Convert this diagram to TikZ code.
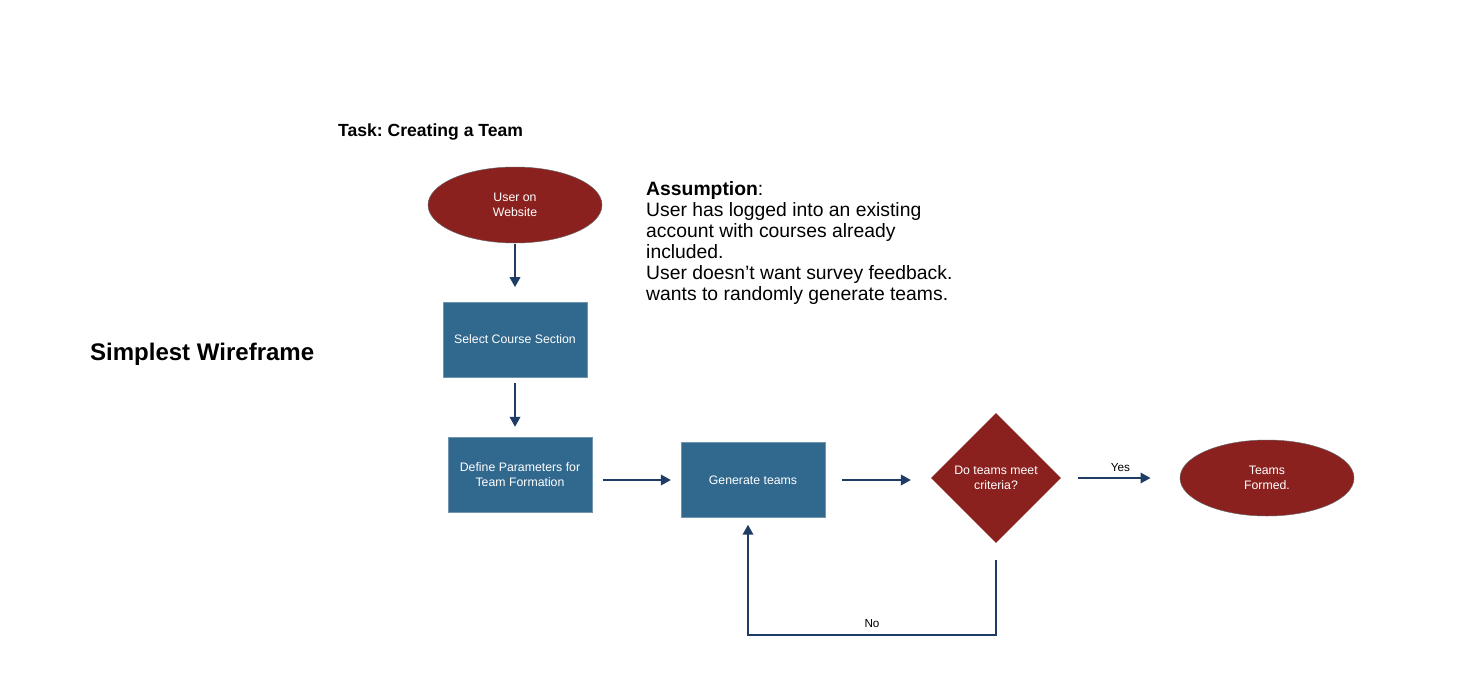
\documentclass[tikz,border=0pt]{standalone}
\usepackage{fontspec}
\setmainfont{Liberation Sans}
\usetikzlibrary{shapes.geometric, arrows.meta}
\definecolor{boxblue}{RGB}{49,104,142}
\definecolor{darkred}{RGB}{139,33,30}
\definecolor{arrowblue}{RGB}{31,61,100}
\frenchspacing

\begin{document}
\begin{tikzpicture}[x=0.03cm, y=-0.03cm,
	stepbox/.style={rectangle, fill=boxblue, draw=boxblue!70!white, text=white, minimum width=4.32cm, minimum height=2.25cm, align=center, font=\fontsize{10.5}{13}\selectfont},
	endpoint/.style={ellipse, fill=darkred, draw=black!60, text=white, minimum width=5.22cm, minimum height=2.28cm, align=center, font=\fontsize{10.5}{13}\selectfont},
	decision/.style={diamond, fill=darkred, text=white, minimum width=3.9cm, minimum height=3.9cm, inner sep=0pt, align=center, font=\fontsize{10.5}{13}\selectfont},
	flow/.style={draw=arrowblue, line width=1.6pt, -{Triangle[length=8.5pt,width=9pt]}},
	edgelabel/.style={font=\fontsize{10}{12}\selectfont}]
	
	% Fix the page size
	\useasboundingbox[fill=white] (0,0) rectangle (1482,692);
	
	% Titles
	\node[anchor=west, font=\fontsize{20.5}{24}\selectfont\bfseries] (wire) at (86,354) {Simplest Wireframe};
	\node[anchor=west, font=\fontsize{15}{18}\selectfont\bfseries] (task) at (334,132) {Task: Creating a Team};
	\node[anchor=north west, align=left, inner sep=0pt, font=\fontsize{16.5}{18}\selectfont] (assume) at (646,181)
		{\textbf{Assumption}:\\User has logged into an existing\\account with courses already\\included.\\User doesn’t want survey feedback.\\wants to randomly generate teams.};
	
	% Steps of the flow
	\node[endpoint] (user) at (515,205) {User on\\Website};
	\node[stepbox] (course) at (515,339.5) {Select Course Section};
	\node[stepbox] (params) at (520,474.5) {Define Parameters for\\Team Formation};
	\node[stepbox] (gen) at (753,480) {Generate teams};
	\node[decision] (crit) at (996,478) {Do teams meet\\criteria?};
	\node[endpoint] (formed) at (1267,478) {Teams\\Formed.};
	
	% Arrows
	\draw[flow, shorten <=1pt, shorten >=12.5pt] (user) -- (course);
	\draw[flow, shorten <=5pt, shorten >=8.5pt] (course) -- (course |- params.north);
	\draw[flow, shorten <=9pt, shorten >=8.5pt] (params.east |- gen) -- (gen);
	\draw[flow, shorten <=14pt, shorten >=17pt] (gen) -- (crit.west |- gen);
	\draw[flow, shorten <=14pt, shorten >=25pt] (crit) -- (formed)
		node[edgelabel, pos=0.5, above=1pt] (yes) {Yes};
	\draw[flow, shorten <=14pt, shorten >=6pt] (crit.south) -- ++(0,92) -| (gen.south -| 748,0);
	\node[edgelabel] (no) at (872,624) {No};
\end{tikzpicture}
\end{document}
